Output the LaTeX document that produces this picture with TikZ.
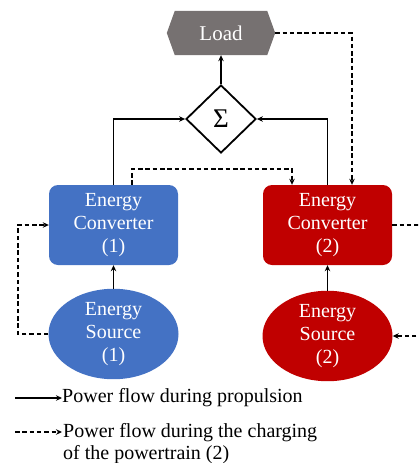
\documentclass[tikz,border=0pt]{standalone}
\usepackage{fontspec}
\setmainfont{Liberation Serif}
\usetikzlibrary{shapes.geometric,arrows.meta,backgrounds}
\definecolor{cblue}{HTML}{4472C4}
\definecolor{cred}{HTML}{C00000}
\definecolor{cgray}{HTML}{767171}
\tikzset{
  conv/.style={rectangle,rounded corners=9pt,minimum width=129pt,minimum height=80pt,inner sep=0pt,text=white,align=center,font=\fontsize{20}{23.3}\selectfont},
  src/.style={ellipse,minimum width=130pt,minimum height=77pt,inner sep=0pt,text=white,align=center,font=\fontsize{20}{23.3}\selectfont},
  sumbox/.style={diamond,draw=black,line width=1.8pt,minimum width=70pt,minimum height=68pt,inner sep=0pt,font=\fontsize{27}{27}\selectfont},
  loadbox/.style={minimum width=108pt,minimum height=44pt,inner sep=0pt,text=white,font=\fontsize{21}{21}\selectfont},
  pflow/.style={line width=1.8pt,-{Stealth[length=6pt,width=5.5pt]}},
  cflow/.style={line width=1.6pt,dash pattern=on 4.5pt off 2.8pt,-{Stealth[length=6pt,width=5.5pt]}},
  legtext/.style={inner sep=0pt,align=left,font=\fontsize{20}{22}\selectfont}
}
\begin{document}
\begin{tikzpicture}[x=1pt,y=-1pt]
\useasboundingbox (0,0) rectangle (418,463);
\clip (0,0) rectangle (418,463);
% nodes
\node[loadbox] (load) at (221,33) {Load};
\begin{scope}[on background layer]
\fill[cgray] (load.west) -- ([xshift=8pt]load.north west) -- ([xshift=-8pt]load.north east) -- (load.east) -- ([xshift=-8pt]load.south east) -- ([xshift=8pt]load.south west) -- cycle;
\end{scope}
\node[sumbox] (sig) at (221,119) {Σ};
\node[conv,fill=cblue] (c1) at (113.5,225) {Energy\\Converter\\(1)};
\node[conv,fill=cred] (c2) at (327.5,225) {Energy\\Converter\\(2)};
\node[src,fill=cblue] (s1) at (113.5,334) {Energy\\Source\\(1)};
\node[src,fill=cred] (s2) at (327.5,336) {Energy\\Source\\(2)};
% helper coordinates
\coordinate (d1) at (132,169);
\coordinate (d2) at (292,169);
\coordinate (d3) at (352,33);
\coordinate (l1) at (18,333);
\coordinate (r1) at (440,225);
% solid connectors
\draw[pflow] (c1.north) |- (sig.west);
\draw[pflow] (c2.north) |- (sig.east);
\draw[pflow] (sig.north) -- (load.south);
\draw[pflow] (s1.north) -- (c1.south);
\draw[pflow] (s2.north) -- (c2.south);
% dashed connectors
\draw[cflow] (load.east) -- (d3) -- (c2.north -| d3);
\draw[cflow] (c1.north -| d1) -- (d1) -- (d2) -- (c2.north -| d2);
\draw[cflow] (s1.west) -- (s1.west -| l1) |- (c1.west);
\draw[cflow] (c2.east) -- (r1) |- (s2.east);
% legend
\coordinate (a1) at (15,398);
\coordinate (a2) at (15,432);
\node[legtext,anchor=west] (t1) at (62,398) {Power flow during propulsion};
\node[legtext,anchor=north west] (t2) at (63,423) {Power flow during the charging\\of the powertrain (2)};
\draw[pflow,line width=1.5pt] (a1) -- (a1 -| t1.west);
\draw[cflow,line width=1.5pt] (a2) -- (a2 -| t1.west);
\end{tikzpicture}
\end{document}
